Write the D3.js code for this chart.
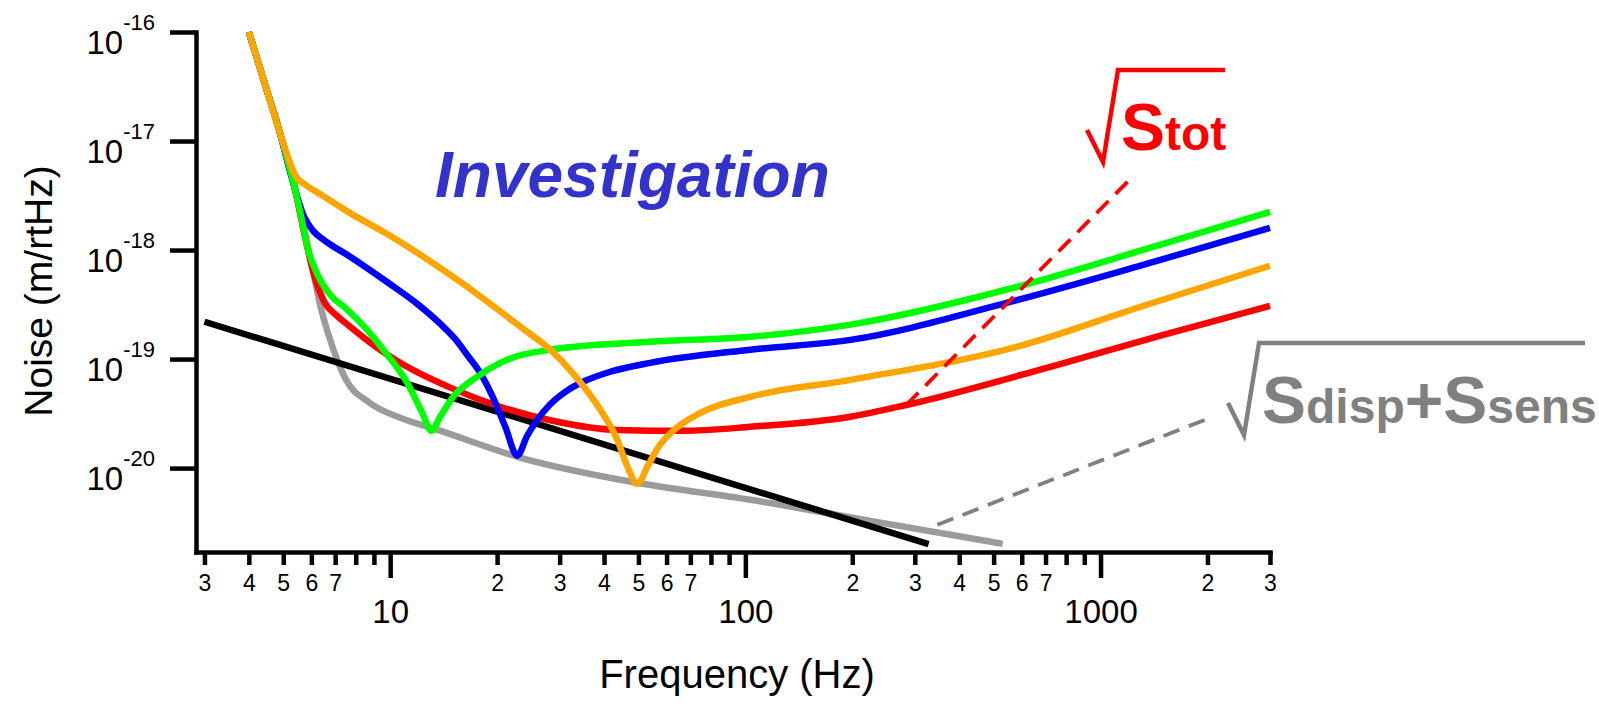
<!DOCTYPE html>
<html>
<head>
<meta charset="utf-8">
<script src="https://cdn.jsdelivr.net/npm/d3@7"></script>
<style>
  html, body { margin: 0; padding: 0; background: #fff; }
  svg { display: block; font-family: "Liberation Sans", Arial, Helvetica, sans-serif; }
</style>
</head>
<body>
<svg id="chart" width="1599" height="704"></svg>
<script>
// Noise spectra, frequency in Hz and amplitude in m/rtHz
const grayFreq   = [4, 4.445, 4.90, 5.40, 5.99, 6.35, 6.84, 7.48, 8.75, 10.67, 13.68, 22.79, 49.6, 103.3, 224.9, 530];
const grayNoise  = [1.0e-16, 3.28e-17, 1.17e-17, 3.57e-18, 7.85e-19, 3.15e-19, 1.37e-19, 6.62e-20, 3.98e-20, 2.89e-20, 2.23e-20, 1.27e-20, 7.33e-21, 5.12e-21, 3.28e-21, 2.02e-21];

const blackFreq  = [3, 328];
const blackNoise = [2.2e-19, 2.01e-21];

const redFreq    = [4, 4.445, 4.90, 5.40, 5.764, 6.07, 6.545, 7.09, 7.715, 9.07, 10.67, 14.76, 20.41, 28.23, 43.6, 66.9, 103.3, 197.6, 285.9, 723, 1476, 3000];
const redNoise   = [1.0e-16, 3.28e-17, 1.17e-17, 3.57e-18, 1.30e-18, 6.32e-19, 3.29e-19, 2.49e-19, 1.98e-19, 1.31e-19, 9.24e-20, 5.47e-20, 3.65e-20, 2.75e-20, 2.24e-20, 2.20e-20, 2.39e-20, 2.96e-20, 3.81e-20, 8.49e-20, 1.64e-19, 3.08e-19];

const blueFreq   = [4, 4.445, 4.90, 5.228, 5.725, 6.07, 6.545, 7.715, 9.78, 11.92, 13.83, 15.24, 16.48, 17.93, 19.38, 21.09, 22.79, 24.31, 25.95, 28.23, 31.12, 35.43, 41.67, 54.0, 103.3, 197.6, 547, 1296, 3000];
const blueNoise  = [1.0e-16, 3.28e-17, 1.17e-17, 5.22e-18, 2.02e-18, 1.50e-18, 1.22e-18, 8.69e-19, 5.12e-19, 3.21e-19, 2.11e-19, 1.53e-19, 1.09e-19, 7.48e-20, 4.60e-20, 2.39e-20, 1.30e-20, 1.98e-20, 2.77e-20, 3.85e-20, 5.01e-20, 6.32e-20, 7.65e-20, 9.24e-20, 1.22e-19, 1.50e-19, 3.29e-19, 7.18e-19, 1.60e-18];

const greenFreq  = [4, 4.445, 4.90, 5.40, 5.58, 5.875, 6.257, 6.776, 7.48, 8.50, 9.557, 11.16, 12.31, 13.05, 13.83, 15.05, 17.58, 20.41, 28.23, 54.0, 103.3, 197.6, 583.6, 1296, 3000];
const greenNoise = [1.0e-16, 3.28e-17, 1.17e-17, 3.57e-18, 2.24e-18, 1.007e-18, 5.87e-19, 3.89e-19, 2.95e-19, 1.94e-19, 1.22e-19, 6.07e-20, 3.21e-20, 2.20e-20, 2.96e-20, 4.51e-20, 6.89e-20, 9.24e-20, 1.22e-19, 1.44e-19, 1.60e-19, 2.07e-19, 4.61e-19, 9.86e-19, 2.24e-18];

const orangeFreq  = [4, 4.445, 4.90, 5.16, 5.435, 5.764, 6.257, 7.715, 9.78, 15.29, 23.85, 28.23, 33.20, 39.04, 43.6, 46.5, 49.6, 53.3, 56.9, 61.5, 74.7, 103.3, 197.6, 583.6, 1296, 3000];
const orangeNoise = [1.0e-16, 3.28e-17, 1.17e-17, 7.03e-18, 4.70e-18, 3.97e-18, 3.36e-18, 2.18e-18, 1.41e-18, 5.46e-19, 1.86e-19, 1.22e-19, 6.98e-20, 3.43e-20, 1.82e-20, 1.04e-20, 7.18e-21, 1.07e-20, 1.56e-20, 2.09e-20, 3.21e-20, 4.51e-20, 6.45e-20, 1.30e-19, 3.02e-19, 7.18e-19];

// Leader lines from the curves to their formula labels
const totLeaderFreq   = [284.1, 1239];
const totLeaderNoise  = [3.81e-20, 4.81e-18];
const baseLeaderFreq  = [347.4, 2069];
const baseLeaderNoise = [3.02e-21, 2.96e-20];

// Axis ticks
const yTicks      = [1e-16, 1e-17, 1e-18, 1e-19, 1e-20];
const xMajorTicks = [10, 100, 1000];
const xMinorTicks = [3, 4, 5, 6, 7, 8, 9, 20, 30, 40, 50, 60, 70, 80, 90,
                     200, 300, 400, 500, 600, 700, 800, 900, 2000, 3000];
const xDomain = [2.84, 3000];
const yDomain = [1.7e-21, 1e-16];

const svg = d3.select("#chart");
const plot = { left: 196, right: 1270, top: 32, bottom: 552 };

const x = d3.scaleLog().domain(xDomain).range([plot.left, plot.right]);
const y = d3.scaleLog().domain(yDomain).range([plot.bottom, plot.top]);

const zip = (fs, vs) => fs.map((f, i) => ({ f, v: vs[i] }));
const line = d3.line().x(d => x(d.f)).y(d => y(d.v)).curve(d3.curveMonotoneX);
const straight = d3.line().x(d => x(d.f)).y(d => y(d.v));

// ---- axes ----
const axisStroke = 4.5;

const xMinorAxis = d3.axisBottom(x)
  .tickValues(xMinorTicks)
  .tickSize(13)
  .tickSizeOuter(0)
  .tickPadding(10)
  .tickFormat(d => {
    const m = Math.round(d / Math.pow(10, Math.floor(Math.log10(d) + 1e-9)));
    return m <= 7 ? String(m) : "";
  });

const gxMinor = svg.append("g")
  .attr("transform", `translate(0,${plot.bottom})`)
  .call(xMinorAxis);
gxMinor.selectAll(".tick text").attr("font-size", 23).attr("fill", "#000");

const xMajorAxis = d3.axisBottom(x)
  .tickValues(xMajorTicks)
  .tickSize(26)
  .tickSizeOuter(0)
  .tickPadding(22)
  .tickFormat(d3.format("d"));

const gxMajor = svg.append("g")
  .attr("transform", `translate(0,${plot.bottom})`)
  .call(xMajorAxis);
gxMajor.select(".domain").remove();
gxMajor.selectAll(".tick text").attr("font-size", 33).attr("fill", "#000");

const yAxis = d3.axisLeft(y)
  .tickValues(yTicks)
  .tickSize(26)
  .tickSizeOuter(0);

const gy = svg.append("g")
  .attr("transform", `translate(${plot.left},0)`)
  .call(yAxis);

gy.selectAll(".tick text").each(function (d) {
  const t = d3.select(this);
  const e = Math.round(Math.log10(d));
  t.text(null)
    .attr("x", -41)
    .attr("y", 21)
    .attr("dy", null)
    .attr("text-anchor", "end")
    .attr("fill", "#000");
  t.append("tspan").attr("font-size", 33).text("10");
  t.append("tspan").attr("font-size", 22).attr("dy", -24).text(String(e));
});

svg.selectAll(".domain, .tick line")
  .attr("stroke", "#000")
  .attr("stroke-width", axisStroke);
svg.selectAll(".domain").attr("stroke-linecap", "square");

// axis titles
svg.append("text")
  .attr("x", 737)
  .attr("y", 688)
  .attr("text-anchor", "middle")
  .attr("font-size", 40)
  .attr("fill", "#000")
  .text("Frequency (Hz)");

svg.append("text")
  .attr("transform", "translate(52,291) rotate(-90)")
  .attr("text-anchor", "middle")
  .attr("font-size", 39)
  .attr("fill", "#000")
  .text("Noise (m/rtHz)");

// ---- curves ----
const series = [
  { data: zip(grayFreq, grayNoise),     color: "#9b9b9b", smooth: true },
  { data: zip(blackFreq, blackNoise),   color: "#000000", smooth: false },
  { data: zip(redFreq, redNoise),       color: "#ff0000", smooth: true },
  { data: zip(blueFreq, blueNoise),     color: "#0000ff", smooth: true },
  { data: zip(greenFreq, greenNoise),   color: "#00ff00", smooth: true },
  { data: zip(orangeFreq, orangeNoise), color: "#ffa500", smooth: true }
];

svg.append("g").selectAll("path")
  .data(series)
  .join("path")
  .attr("d", s => (s.smooth ? line : straight)(s.data))
  .attr("fill", "none")
  .attr("stroke", s => s.color)
  .attr("stroke-width", 6.5)
  .attr("stroke-linejoin", "round");

// ---- leader lines ----
svg.append("path")
  .attr("d", straight(zip(totLeaderFreq, totLeaderNoise)))
  .attr("fill", "none")
  .attr("stroke", "#ff0000")
  .attr("stroke-width", 3.8)
  .attr("stroke-dasharray", "17 10");

svg.append("path")
  .attr("d", straight(zip(baseLeaderFreq, baseLeaderNoise)))
  .attr("fill", "none")
  .attr("stroke", "#808080")
  .attr("stroke-width", 3.8)
  .attr("stroke-dasharray", "17 10");

// ---- title ----
svg.append("text")
  .attr("x", 435)
  .attr("y", 197)
  .attr("font-size", 64)
  .attr("font-weight", "bold")
  .attr("font-style", "italic")
  .attr("fill", "#3333cc")
  .text("Investigation");

// ---- formula labels with radical signs ----
function radicalLabel(tx, ty, width, color, parts) {
  const g = svg.append("g").attr("transform", `translate(${tx},${ty})`);
  g.append("path")
    .attr("d", `M0,60 L16,92 L31,0 H${width}`)
    .attr("fill", "none")
    .attr("stroke", color)
    .attr("stroke-width", 4.5)
    .attr("stroke-linejoin", "miter");
  const t = g.append("text")
    .attr("x", 34)
    .attr("y", 80)
    .attr("font-weight", "bold")
    .attr("fill", color);
  parts.forEach(p => t.append("tspan").attr("font-size", p[1]).text(p[0]));
  return g;
}

radicalLabel(1087, 70, 138, "#ff0000", [["S", 66], ["tot", 48]]);
radicalLabel(1228, 343, 357, "#808080", [["S", 66], ["disp", 48], ["+", 66], ["S", 66], ["sens", 48]]);
</script>
</body>
</html>
